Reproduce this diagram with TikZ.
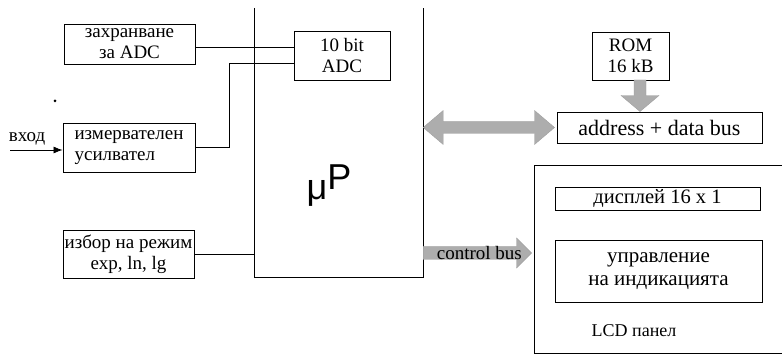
\documentclass[tikz,border=0pt]{standalone}
\usepackage{fontspec}
\setmainfont{Liberation Serif}
\newfontfamily\handfont{Liberation Sans}
\usetikzlibrary{calc,arrows.meta}
\begin{document}
\begin{tikzpicture}[x=1pt,y=-1pt,
  txt/.style={font=\fontsize{19}{21}\selectfont},
  blk/.style={draw,line width=0.9pt,inner sep=0pt,align=center,txt},
  wire/.style={line width=0.8pt},
  fat/.style={fill=black!32,draw=black!40,line width=0.3pt}]
\clip (0,0) rectangle (782,355);
% left blocks
\node[blk,minimum width=131,minimum height=40] (zahr) at (129.5,44) {захранване\\за ADC};
\node[blk,minimum width=132,minimum height=49,align=left] (izmer) at (129,147.5) {измервателен\\усилвател};
\node[blk,minimum width=131,minimum height=48] (izbor) at (128.5,254) {избор на режим\\exp, ln, lg};
\node[txt,anchor=base] (vhod) at (27,142) {вход};
\coordinate (in) at (10,150);
\fill (55,101) circle (1.5);
% microprocessor (open at top)
\node[minimum width=168,minimum height=269,inner sep=0pt] (mp) at (339,142.5) {};
\draw[wire] (mp.north west) -- (mp.south west) -- (mp.south east) -- (mp.north east);
\node[font=\handfont\fontsize{36}{36}\selectfont,inner sep=0pt] (mptext) at (329,186) {μ\raisebox{10pt}{P}};
\node[blk,minimum width=96,minimum height=49] (adc) at (342,55.5) {10 bit\\ADC};
% right blocks
\node[blk,minimum width=77,minimum height=48] (rom) at (630.5,56) {ROM\\16 kB};
\node[blk,minimum width=205,minimum height=31,font=\fontsize{22}{24}\selectfont] (bus) at (659.5,127.5) {address + data bus};
\node[draw,line width=0.9pt,minimum width=256,minimum height=188,inner sep=0pt] (lcd) at (662,259) {};
\node[blk,minimum width=205,minimum height=23,font=\fontsize{20.5}{22}\selectfont] (disp) at (657.5,198.5) {дисплей 16 x 1};
\node[blk,minimum width=207,minimum height=62,font=\fontsize{21}{23}\selectfont] (upr) at (658.5,271) {управление\\на индикацията};
\node[font=\fontsize{18}{20}\selectfont] (lcdtxt) at (634,331) {LCD панел};
% wires
\draw[wire] ($(zahr.east)+(0,3)$) -- ($(adc.west)+(0,-8.5)$);
\draw[wire] (izmer.east) -- ++(34,0) |- ($(adc.west)+(0,7.5)$);
\draw[wire] (izbor.east) -- (izbor.east -| mp.west);
\draw[wire,-{Latex[length=9pt,width=7pt]}] (in) -- (izmer.west |- in);
% fat arrows
\coordinate (aL) at (mp.east |- bus.west);
\coordinate (aR) at ($(bus.west)+(-2,0)$);
\path[fat] (aL) -- ($(aL)+(20,-17)$) -- ($(aL)+(20,-6)$) -- ($(aR)+(-20,-6)$) -- ($(aR)+(-20,-17)$) -- (aR)
  -- ($(aR)+(-20,17)$) -- ($(aR)+(-20,6)$) -- ($(aL)+(20,6)$) -- ($(aL)+(20,17)$) -- cycle;
\coordinate (cL) at ($(mp.east |- izbor.east)+(0,-1)$);
\coordinate (cR) at ($(lcd.west |- cL)+(-2,0)$);
\path[fat] ($(cL)+(0,-6.5)$) -- ($(cR)+(-15,-6.5)$) -- ($(cR)+(-15,-15)$) -- (cR) -- ($(cR)+(-15,15)$) -- ($(cR)+(-15,6.5)$) -- ($(cL)+(0,6.5)$) -- cycle;
\node[txt] (cbus) at ($(cL)!0.5!(cR)+(2,0)$) {control bus};
\coordinate (rT) at (640,80);
\coordinate (rB) at (bus.north -| rT);
\path[fat] ($(rT)+(-6,0)$) -- ($(rB)+(-6,-16)$) -- ($(rB)+(-19,-16)$) -- (rB) -- ($(rB)+(19,-16)$) -- ($(rB)+(6,-16)$) -- ($(rT)+(6,0)$) -- cycle;
\end{tikzpicture}
\end{document}
